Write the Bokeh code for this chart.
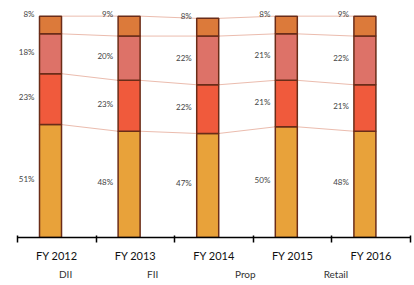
import numpy as np
from bokeh.plotting import figure
from bokeh.layouts import column
from bokeh.models import ColumnDataSource, Range1d, FixedTicker, Legend, LegendItem
from bokeh.core.properties import value
from bokeh.embed import file_html
from bokeh.resources import INLINE

years = ["FY 2012", "FY 2013", "FY 2014", "FY 2015", "FY 2016"]
dii = [8, 9, 8, 8, 9]
fii = [18, 20, 22, 21, 22]
prop = [23, 23, 22, 21, 21]
retail = [51, 48, 47, 50, 48]

colors = {"Retail": "#e8a23a", "Prop": "#f05a3c", "FII": "#dd7268", "DII": "#dc7a3a"}
outline = "#6a2c18"
FONT = "Lato"

n = len(years)
idx = np.arange(n)
shift = -0.08
bw = 0.28
xc = idx + shift

data = dict(x=xc, Retail=np.array(retail) / 100, Prop=np.array(prop) / 100,
            FII=np.array(fii) / 100, DII=np.array(dii) / 100)
src = ColumnDataSource(data)

p = figure(frame_width=393, frame_height=228, output_backend="svg", toolbar_location=None,
           x_range=Range1d(-0.5, n - 0.5), y_range=Range1d(0, 1.03),
           min_border_left=17, min_border_right=4, min_border_top=9, min_border_bottom=0)
p.outline_line_color = None
p.grid.visible = False
p.yaxis.visible = False
p.background_fill_color = "white"

stack_order = ["Retail", "Prop", "FII", "DII"]

# series lines between bars
cum_levels = []
run = np.zeros(n)
for k in stack_order:
    run = run + np.array(data[k])
    cum_levels.append(run.copy())
for lv in cum_levels:
    p.segment(x0=xc[:-1] + bw / 2, y0=lv[:-1], x1=xc[1:] - bw / 2, y1=lv[1:],
              line_color="#ebbcae", line_width=1)

rends = p.vbar_stack(stack_order, x="x", width=bw, source=src,
                     fill_color=[colors[k] for k in stack_order],
                     line_color=outline, line_width=1.5)

# labels
lx, ly, lt = [], [], []
base = np.zeros(n)
for k in stack_order:
    vals = np.array(data[k])
    for i in range(n):
        lx.append(xc[i] - bw / 2)
        if k == "DII":
            ly.append(base[i] + vals[i])
        else:
            ly.append(base[i] + vals[i] / 2)
        lt.append(f"{int(round(vals[i] * 100))}%")
    base = base + vals
lsrc = ColumnDataSource(dict(x=lx, y=ly, t=lt))
p.text(x="x", y="y", text="t", source=lsrc, x_offset=-5, y_offset=-2,
       text_align="right", text_baseline="middle", text_font=value(FONT),
       text_font_size="8px", text_color="#444444")

ax = p.xaxis[0]
ax.ticker = FixedTicker(ticks=list(idx), minor_ticks=list(np.arange(-0.5, n, 1.0)))
ax.major_label_overrides = {int(i): years[i] for i in idx}
ax.major_tick_line_color = None
ax.minor_tick_line_color = "black"
ax.minor_tick_line_width = 1.5
ax.minor_tick_out = 5
ax.minor_tick_in = 2
ax.axis_line_color = "black"
ax.axis_line_width = 1.5
ax.major_label_standoff = 5
ax.major_label_text_font = FONT
ax.major_label_text_font_size = "11px"
ax.major_label_text_color = "#111111"

# legend strip as a separate small figure (legend drawn inside its frame)
legend_order = ["DII", "FII", "Prop", "Retail"]
p2 = figure(frame_width=393, frame_height=18, output_backend="svg", toolbar_location=None,
            x_range=Range1d(0, 1), y_range=Range1d(0, 1), x_axis_type=None, y_axis_type=None,
            min_border_left=17, min_border_right=4, min_border_top=0, min_border_bottom=0)
p2.outline_line_color = None
p2.grid.visible = False
items = []
for k in legend_order:
    r = p2.vbar(x="x", top="top", width=0.1, source=ColumnDataSource(dict(x=[], top=[])),
                fill_color=colors[k], line_color=outline, line_width=1.5)
    items.append(LegendItem(label=k, renderers=[r]))
legend = Legend(items=items, orientation="horizontal", location=(28, 2),
                glyph_width=10, glyph_height=10, label_height=12, label_standoff=4,
                spacing=54, padding=0, margin=0, border_line_color=None,
                background_fill_alpha=0, label_text_font=FONT,
                label_text_font_size="10px", label_text_color="#333333")
p2.add_layout(legend, "center")

layout = column(p, p2, spacing=0)
open("out.html", "w").write(file_html(layout, INLINE))
